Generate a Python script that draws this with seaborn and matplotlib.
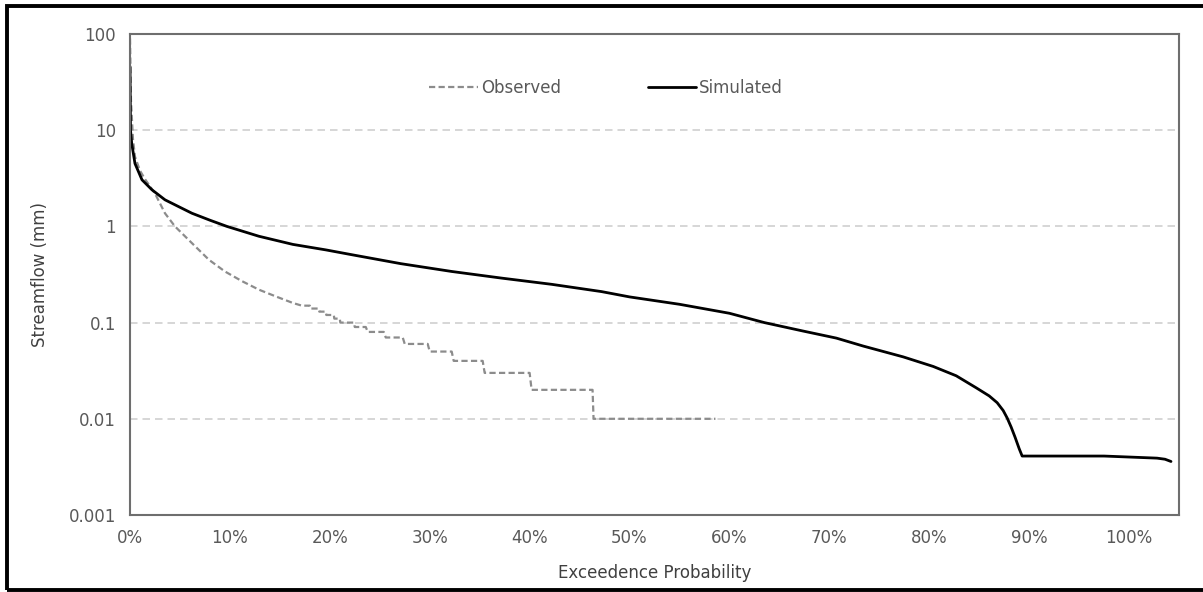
import numpy as np
import pandas as pd
import seaborn as sns
import matplotlib.pyplot as plt
import matplotlib.ticker as mtick
from matplotlib.patches import Rectangle

# Flow duration curve values (x in %, flow in mm)
obs_pct = [0, 0.1, 0.3, 0.5, 1.0, 1.5, 2.5, 3.5, 4.5, 6.2, 7.9, 9.5, 11.2, 12.9,
           14.6, 16.3, 17.2, 18.0, 18.05, 18.9, 18.95, 19.6, 19.65, 20.4, 20.45,
           21.0, 21.05, 22.4, 22.5, 23.6, 23.8, 25.4, 25.6, 27.3, 27.5, 29.8,
           30.0, 32.2, 32.4, 35.3, 35.5, 40.0, 40.2, 46.3, 46.4, 58.6]
obs_flow = [90, 20, 8.0, 5.3, 3.8, 3.1, 2.2, 1.37, 1.0, 0.67, 0.45, 0.34, 0.27, 0.22,
            0.187, 0.16, 0.15, 0.15, 0.14, 0.14, 0.13, 0.13, 0.12, 0.12, 0.11,
            0.11, 0.10, 0.10, 0.09, 0.09, 0.08, 0.08, 0.07, 0.07, 0.06, 0.06,
            0.05, 0.05, 0.04, 0.04, 0.03, 0.03, 0.02, 0.02, 0.01, 0.01]

sim_pct = [0, 0.05, 0.17, 0.5, 1.2, 2.2, 3.5, 5.0, 6.2, 8.0, 9.7, 12.9, 16.3, 19.6,
           22.1, 27.1, 32.2, 37.2, 42.2, 47.2, 50.0, 55, 60, 63.5, 67.3, 70.7, 73.4,
           77.4, 80.4, 82.7, 84.7, 86.0, 86.8, 87.4, 87.8, 88.2, 88.6, 89.0, 89.3,
           97.5, 102.8, 103.6, 104.2]
sim_flow = [46, 10, 7.3, 4.5, 3.05, 2.4, 1.89, 1.58, 1.37, 1.16, 1.0, 0.79, 0.65, 0.57,
            0.51, 0.41, 0.34, 0.29, 0.25, 0.21, 0.185, 0.155, 0.125, 0.1, 0.082, 0.069, 0.057,
            0.044, 0.035, 0.028, 0.021, 0.0173, 0.0147, 0.0122, 0.0102, 0.0082, 0.0064, 0.0049, 0.0041,
            0.0041, 0.0039, 0.0038, 0.0036]

y_ticks = [0.001, 0.01, 0.1, 1, 10, 100]
y_labels = ['0.001', '0.01', '0.1', '1', '10', '100']

obs_df = pd.DataFrame({'pct': obs_pct, 'flow': obs_flow})
sim_df = pd.DataFrame({'pct': sim_pct, 'flow': sim_flow})

sns.set_theme(style='white')
plt.rcParams['font.family'] = ['DejaVu Sans']
text_grey = '#595959'

fig, ax = plt.subplots(figsize=(12.03, 5.92), dpi=100)
fig.subplots_adjust(left=130 / 1203, right=1179 / 1203, top=1 - 34 / 592, bottom=1 - 515 / 592)

sns.lineplot(data=obs_df, x='pct', y='flow', ax=ax, estimator=None, sort=False,
             color='#8c8c8c', linewidth=1.6, linestyle=(0, (2.8, 1.5)), label='Observed')
sns.lineplot(data=sim_df, x='pct', y='flow', ax=ax, estimator=None, sort=False,
             color='black', linewidth=2.0, label='Simulated')

ax.set_yscale('log')
ax.set_ylim(0.001, 100)
ax.set_xlim(0, 105)
ax.set_yticks(y_ticks)
ax.set_yticklabels(y_labels)
ax.yaxis.set_minor_locator(mtick.NullLocator())
ax.set_xticks(np.arange(0, 101, 10))
ax.xaxis.set_major_formatter(mtick.PercentFormatter(100, decimals=0))

ax.grid(axis='y', which='major', color='#cfcfcf', linestyle=(0, (4.5, 3)), linewidth=1.2)
ax.grid(axis='x', visible=False)
for s in ax.spines.values():
    s.set_color('#6e6e6e')
    s.set_linewidth(1.5)

ax.tick_params(axis='both', length=0, labelsize=12, labelcolor=text_grey, pad=10)
ax.set_xlabel('Exceedence Probability', fontsize=12, color='#404040', labelpad=12)
ax.set_ylabel('Streamflow (mm)', fontsize=12, color='#404040', labelpad=14)

leg = ax.legend(loc='center', bbox_to_anchor=(0.454, 0.888), ncol=2, frameon=False,
                fontsize=12, handlelength=2.9, handletextpad=0.2, columnspacing=5.2)
for t in leg.get_texts():
    t.set_color(text_grey)

# black frame around the picture (cut off on the right like the reference)
fig.add_artist(Rectangle((6.5 / 1203, 2.5 / 592), 1.1, 1 - 8 / 592,
                         transform=fig.transFigure, fill=False,
                         edgecolor='black', linewidth=2.8))

plt.savefig('out.png', dpi=100)
